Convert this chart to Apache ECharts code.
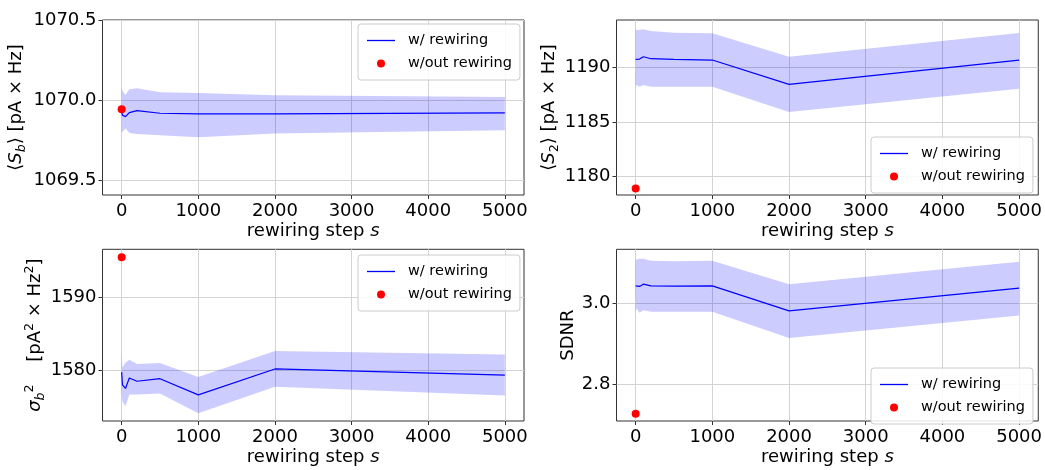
<!DOCTYPE html>
<html>
<head>
<meta charset="utf-8">
<script src="https://cdn.jsdelivr.net/npm/echarts@6/dist/echarts.min.js"></script>
<style>
html,body{margin:0;padding:0;background:#fff;}
#c{width:1045px;height:470px;}
</style>
</head>
<body>
<div id="c"></div>
<script>
// ---- data ----
const steps = [0, 10, 50, 100, 200, 500, 1000, 2000, 5000];
const xTicks = [0, 1000, 2000, 3000, 4000, 5000];

const sbMean  = [1069.927, 1069.905, 1069.896, 1069.921, 1069.933, 1069.917, 1069.913, 1069.913, 1069.919];
const sbUpper = [1070.083, 1070.060, 1070.031, 1070.067, 1070.073, 1070.048, 1070.044, 1070.030, 1070.019];
const sbLower = [1069.800, 1069.800, 1069.823, 1069.794, 1069.788, 1069.780, 1069.767, 1069.790, 1069.810];
const sbNoRewire = 1069.942;
const sbTicks = [1069.5, 1070.0, 1070.5];

const s2Mean  = [1190.73, 1190.60, 1190.76, 1190.97, 1190.79, 1190.73, 1190.67, 1188.44, 1190.67];
const s2Upper = [1193.57, 1193.40, 1193.45, 1193.48, 1193.32, 1193.17, 1193.11, 1190.97, 1193.14];
const s2Lower = [1188.08, 1188.38, 1188.22, 1188.38, 1188.22, 1188.22, 1188.22, 1185.91, 1188.05];
const s2NoRewire = 1178.93;
const s2Ticks = [1180, 1185, 1190];

const varMean  = [1579.69, 1577.94, 1577.45, 1578.88, 1578.44, 1578.79, 1576.56, 1580.13, 1579.29];
const varUpper = [1582.38, 1580.36, 1581.03, 1581.40, 1580.81, 1580.94, 1579.02, 1582.61, 1582.11];
const varLower = [1577.00, 1575.66, 1574.99, 1576.60, 1576.60, 1576.77, 1574.05, 1577.67, 1576.47];
const varNoRewire = 1595.5;
const varTicks = [1580, 1590];

const sdnrMean  = [3.0424, 3.0386, 3.0410, 3.0465, 3.0424, 3.0417, 3.0424, 2.9807, 3.0369];
const sdnrUpper = [3.1108, 3.1067, 3.1090, 3.1090, 3.1043, 3.1030, 3.1043, 3.0465, 3.1019];
const sdnrLower = [2.9742, 2.9863, 2.9759, 2.9822, 2.9783, 2.9783, 2.9783, 2.9140, 2.9694];
const sdnrNoRewire = 2.727;
const sdnrTicks = [2.8, 3.0];

// ---- chart ----
const FONT = 'DejaVu Sans';
const chart = echarts.init(document.getElementById('c'), null, {renderer: 'canvas'});

const grids = [
  {left: 102.5, top: 20, width: 421.5, height: 175},
  {left: 616.5, top: 20, width: 423, height: 175},
  {left: 102.5, top: 249.3, width: 421.5, height: 175.7},
  {left: 616.5, top: 249.3, width: 423, height: 175.7}
].map(g => Object.assign({show: true, borderColor: '#333', borderWidth: 1, containLabel: false}, g));

const rich = {
  it: {fontFamily: FONT, fontSize: 18, fontStyle: 'italic', color: '#000', lineHeight: 24},
  sub: {fontFamily: FONT, fontSize: 12.5, color: '#000', lineHeight: 12, verticalAlign: 'bottom'},
  subit: {fontFamily: FONT, fontSize: 12.5, fontStyle: 'italic', color: '#000', lineHeight: 12, verticalAlign: 'bottom'},
  sup: {fontFamily: FONT, fontSize: 12.5, color: '#000', lineHeight: 12, verticalAlign: 'top'}
};

function xAxis(i) {
  return {
    type: 'value', gridIndex: i, min: -250, max: 5250,
    name: 'rewiring step {it|s}', nameLocation: 'middle', nameGap: 24, nameMoveOverlap: false,
    nameTextStyle: {fontFamily: FONT, fontSize: 18, color: '#000', lineHeight: 24, rich: rich},
    axisLine: {show: false, onZero: false},
    axisTick: {show: true, inside: false, length: 4, lineStyle: {color: '#333'}, customValues: xTicks},
    axisLabel: {fontFamily: FONT, fontSize: 18, color: '#000', margin: 7, customValues: xTicks, formatter: v => String(v)},
    splitLine: {show: true, lineStyle: {color: '#d3d3d3', width: 1}}
  };
}

function yAxis(i, min, max, ticks, dec, name, gap) {
  return {
    type: 'value', gridIndex: i, min: min, max: max,
    name: name, nameLocation: 'middle', nameGap: gap, nameMoveOverlap: false,
    nameTextStyle: {fontFamily: FONT, fontSize: 18, color: '#000', lineHeight: 24, rich: rich},
    axisLine: {show: false, onZero: false},
    axisTick: {show: true, inside: false, length: 4, lineStyle: {color: '#333'}, customValues: ticks},
    axisLabel: {fontFamily: FONT, fontSize: 18, color: '#000', margin: 6, customValues: ticks, formatter: v => v.toFixed(dec)},
    splitLine: {show: true, lineStyle: {color: '#d3d3d3', width: 1}}
  };
}

function band(i, lo, hi) {
  return {
    type: 'custom', xAxisIndex: i, yAxisIndex: i, silent: true, z: 1,
    data: steps.map((x, k) => [x, lo[k], hi[k]]),
    encode: {x: 0, y: [1, 2]},
    renderItem: function (params, api) {
      if (params.dataIndex !== 0) return null;
      const pts = [];
      for (let k = 0; k < steps.length; k++) pts.push(api.coord([steps[k], hi[k]]));
      for (let k = steps.length - 1; k >= 0; k--) pts.push(api.coord([steps[k], lo[k]]));
      return {type: 'polygon', shape: {points: pts}, style: {fill: 'rgba(0,0,255,0.2)', stroke: null}};
    }
  };
}

function meanLine(i, mean) {
  return {
    type: 'line', name: 'w/ rewiring', xAxisIndex: i, yAxisIndex: i, z: 3,
    data: steps.map((x, k) => [x, mean[k]]),
    symbol: 'none', showSymbol: false, color: '#0000ff',
    lineStyle: {color: '#0000ff', width: 1.2}
  };
}

function dot(i, v) {
  return {
    type: 'scatter', name: 'w/out rewiring', xAxisIndex: i, yAxisIndex: i, z: 4,
    data: [[0, v]], symbol: 'circle', symbolSize: 8, color: '#ff0000',
    itemStyle: {color: '#ff0000', opacity: 1}
  };
}

function legend(left, top) {
  return {
    left: left, top: top, orient: 'vertical',
    data: [
      {name: 'w/ rewiring', icon: 'path://M0,0 L28,0 L28,1.3 L0,1.3 Z', itemStyle: {color: '#0000ff'}},
      {name: 'w/out rewiring', icon: 'circle', itemStyle: {color: '#ff0000', opacity: 1}}
    ],
    itemWidth: 28, itemHeight: 8, itemGap: 8,
    padding: [9, 8, 9, 9],
    backgroundColor: 'rgba(255,255,255,0.85)', borderColor: '#cccccc', borderWidth: 1, borderRadius: 3,
    selectedMode: false,
    textStyle: {fontFamily: FONT, fontSize: 14.5, color: '#000', padding: [0, 0, 0, 8]}
  };
}

const option = {
  animation: false,
  backgroundColor: '#fff',
  grid: grids,
  xAxis: [xAxis(0), xAxis(1), xAxis(2), xAxis(3)],
  yAxis: [
    yAxis(0, 1069.406, 1070.5, sbTicks, 1, '⟨{it|S}{subit|b}⟩ [pA × Hz]', 74),
    yAxis(1, 1178.33, 1194.33, s2Ticks, 0, '⟨{it|S}{sub|2}⟩ [pA × Hz]', 55),
    yAxis(2, 1572.97, 1596.59, varTicks, 0, '{it|σ}{subit|b}{sup|2}    [pA{sup|2} × Hz{sup|2}]', 55),
    yAxis(3, 2.709, 3.1325, sdnrTicks, 1, 'SDNR', 36)
  ],
  legend: [legend(358, 24), legend(871, 137), legend(358, 255), legend(871, 368)],
  series: [
    band(0, sbLower, sbUpper), meanLine(0, sbMean), dot(0, sbNoRewire),
    band(1, s2Lower, s2Upper), meanLine(1, s2Mean), dot(1, s2NoRewire),
    band(2, varLower, varUpper), meanLine(2, varMean), dot(2, varNoRewire),
    band(3, sdnrLower, sdnrUpper), meanLine(3, sdnrMean), dot(3, sdnrNoRewire)
  ]
};
chart.setOption(option);
</script>
</body>
</html>
